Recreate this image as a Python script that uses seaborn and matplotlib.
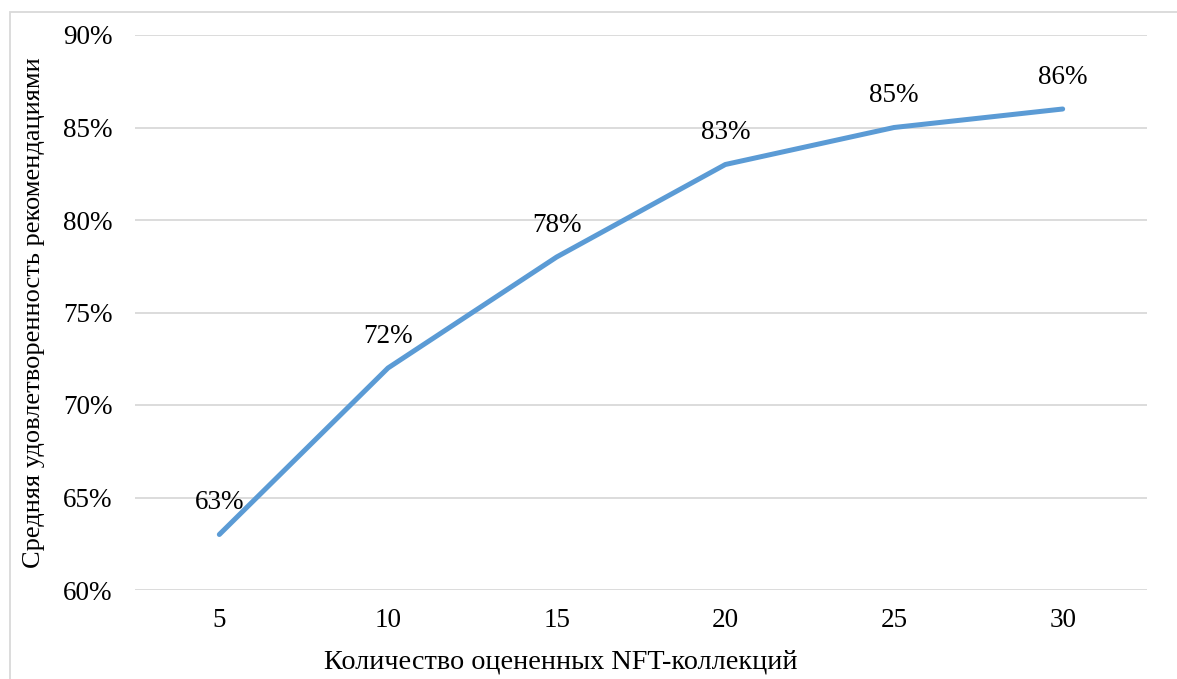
import matplotlib
matplotlib.use("Agg")
import matplotlib.pyplot as plt
import seaborn as sns
import numpy as np
from matplotlib.patches import Rectangle
from matplotlib.ticker import FuncFormatter

collections = ["5", "10", "15", "20", "25", "30"]
satisfaction = [63, 72, 78, 83, 85, 86]
y_ticks = [60, 65, 70, 75, 80, 85, 90]

sns.set_theme(style="white")
plt.rcParams["font.family"] = ["Liberation Serif", "DejaVu Serif"]

W, H = 1177, 679
fig = plt.figure(figsize=(W / 100, H / 100), dpi=100)
ax = fig.add_axes([135 / W, 1 - 590 / H, (1147 - 135) / W, (590 - 35) / H])

# chart frame
fig.patches.append(Rectangle((10 / W, -0.05), 1.1, 1 - 12 / H + 0.05,
                             transform=fig.transFigure, fill=False,
                             edgecolor="#D9D9D9", linewidth=1.3, zorder=0))

pos = np.arange(len(collections))
sns.lineplot(x=pos, y=satisfaction, ax=ax, color="#5B9BD5", linewidth=3.6,
             solid_capstyle="round", solid_joinstyle="round", zorder=3)

for x, v in zip(pos, satisfaction):
    ax.annotate(f"{v}%", (x, v), xytext=(0, 23), textcoords="offset points",
                ha="center", va="center", fontsize=19.5, color="black")

ax.set_xlim(-0.5, len(collections) - 0.5)
ax.set_ylim(60, 90)
ax.set_xticks(pos)
ax.set_xticklabels(collections)
ax.set_yticks(y_ticks)
ax.yaxis.set_major_formatter(FuncFormatter(lambda v, _: f"{v:.0f}%"))
ax.grid(axis="y", color="#D9D9D9", linewidth=1.3)
ax.grid(axis="x", visible=False)
for s in ax.spines.values():
    s.set_visible(False)
ax.tick_params(axis="both", length=0, labelsize=19.5, colors="black")
ax.tick_params(axis="y", pad=16)
ax.tick_params(axis="x", pad=13)

ax.set_xlabel("Количество оцененных NFT-коллекций", fontsize=20.3, color="black")
ax.set_ylabel("Средняя удовлетворенность рекомендациями", fontsize=19, color="black")
ax.xaxis.set_label_coords((561 - 135) / 1012, -(662 - 590) / 555)
ax.xaxis.label.set_va("center")
ax.yaxis.set_label_coords(-(135 - 34) / 1012, 0.5)
ax.yaxis.label.set_va("center")

fig.savefig("out.png", dpi=100)
